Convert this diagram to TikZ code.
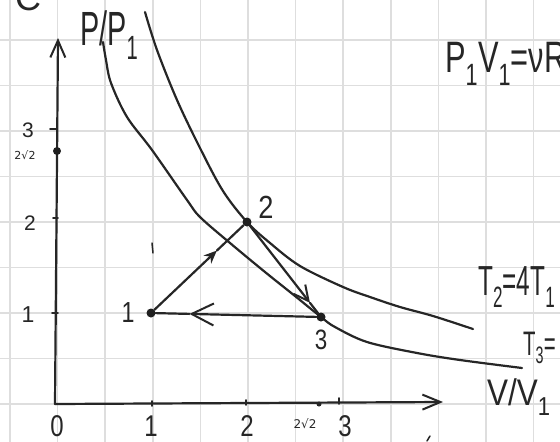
\documentclass[tikz,border=0pt]{standalone}
\usepackage{fontspec}
\setmainfont{Liberation Sans}
\newfontfamily\dv{DejaVu Sans}
\usetikzlibrary{arrows.meta}
\begin{document}
\begin{tikzpicture}[x=1pt,y=-1pt,
  ink/.style={draw=black!85, line width=2.2pt, line cap=round, line join=round},
  gridline/.style={draw=black!13, line width=1.6pt},
  dot/.style={circle, fill=black!88, inner sep=0pt, minimum size=9pt},
  hand/.style={text=black!85, inner sep=0pt},
  barb/.style={-{Straight Barb[length=#1,width=#1,line width=2pt]}},
  barb/.default=16pt]
\useasboundingbox (0,0) rectangle (560,442);
\fill[white] (0,0) rectangle (560,442);
% grid
\foreach \x in {10,57.6,105.2,152.8,200.4,248,295.6,343.2,390.8,438.4,486,533.6}
  \draw[gridline] (\x,0) -- (\x,442);
\foreach \y in {40,85.5,131,176.5,222,267.5,313,358.5,404,449.5}
  \draw[gridline] (0,\y) -- (560,\y);
% axes
\coordinate (O) at (55,404);
\coordinate (ytop) at (58,38);
\coordinate (xend) at (443,402);
\draw[ink, -{Straight Barb[length=17pt,width=15pt,line width=2pt]}] (O) -- (ytop);
\draw[ink, -{Straight Barb[length=18pt,width=15pt,line width=2pt]}] (O) -- (xend);
% ticks
\draw[ink, line width=1.6pt] (152,401) -- (152,406);
\draw[ink, line width=1.6pt] (246,400) -- (246,405);
\draw[ink, line width=1.6pt] (339,398) -- (339,404);
\fill[black!85] (319,404) circle (2.5pt);
\draw[ink, line width=1.6pt] (52,313) -- (58,313);
\draw[ink, line width=1.6pt] (53,218) -- (58,218);
\draw[ink, line width=1.6pt] (50,129) -- (57,129);
% isotherms
\draw[ink] plot[smooth, tension=0.55] coordinates {(103,42) (106,60) (111,83) (127,117) (152,150) (187,200) (200,217) (230,243) (265,272) (295,296) (321,317) (335,327) (367,342) (417,353) (460,360) (522,368)};
\draw[ink] plot[smooth, tension=0.55] coordinates {(145,12) (157,50) (177,100) (200,148) (223,191) (247,222) (270,243) (300,266) (343,287) (370,297) (400,307) (433,316) (473,329)};
% states
\node[dot] (p1) at (151,313) {};
\node[dot] (p2) at (247,222) {};
\node[dot] (p3) at (321,317) {};
\node[dot, minimum size=8pt] (q) at (57,151) {};
% cycle
\path (p1) -- (p2) coordinate[pos=0.7] (m12);
\draw[ink, -{Stealth[length=13pt,width=11pt]}] (p1) -- (m12);
\draw[ink] (m12) -- (p2);
\path (p2) -- (p3) coordinate[pos=0.88] (m23);
\draw[ink, barb=15pt] (p2) -- (m23);
\draw[ink] (m23) -- (p3);
\path (p3) -- (p1) coordinate[pos=0.79] (m31);
\draw[ink, barb=22pt] (p3) -- (m31);
\draw[ink] (m31) -- (p1);
% stray pen marks
\draw[ink, line width=1.5pt] (152,243) -- (153,253);
\draw[ink, line width=1.5pt] (427,441) -- (430,436);
% point labels
\node[hand, font=\fontsize{29}{29}\selectfont, xscale=0.8] (l1) at (128,313) {1};
\node[hand, font=\fontsize{32}{32}\selectfont, xscale=0.85] (l2) at (266,207) {2};
\node[hand, font=\fontsize{28}{28}\selectfont, xscale=0.8] (l3) at (321,340) {3};
% axis labels
\node[hand, font=\fontsize{30}{30}\selectfont, xscale=0.8] (x0) at (57,426) {0};
\node[hand, font=\fontsize{30}{30}\selectfont, xscale=0.8] (x1) at (151,426) {1};
\node[hand, font=\fontsize{30}{30}\selectfont, xscale=0.8] (x2) at (247,426) {2};
\node[hand, font=\dv\fontsize{12}{12}\selectfont] (xr) at (305,424) {2√2};
\node[hand, font=\fontsize{30}{30}\selectfont, xscale=0.8] (x3) at (345,426) {3};
\node[hand, font=\fontsize{21}{21}\selectfont] (y3) at (28,130) {3};
\node[hand, font=\dv\fontsize{11}{11}\selectfont] (yr) at (25,155) {2√2};
\node[hand, font=\fontsize{21}{21}\selectfont] (y2) at (30,223) {2};
\node[hand, font=\fontsize{23}{23}\selectfont] (y1) at (28,315) {1};
% titles
\node[hand, font=\fontsize{36}{36}\selectfont] (c) at (28,-2) {C};
\node[hand, font=\fontsize{48}{48}\selectfont, xscale=0.6, anchor=west] (py) at (80,35) {P/P\textsubscript{1}};
\node[hand, font=\fontsize{44}{44}\selectfont, xscale=0.7, anchor=west] (eq) at (445,64) {P\textsubscript{1}V\textsubscript{1}=νR};
\node[hand, font=\fontsize{42}{42}\selectfont, xscale=0.58, anchor=west] (t2) at (478,287) {T\textsubscript{2}=4T\textsubscript{1}};
\node[hand, font=\fontsize{34}{34}\selectfont, xscale=0.6, anchor=west] (t3) at (523,348) {T\textsubscript{3}=};
\node[hand, font=\fontsize{37}{37}\selectfont, xscale=0.85, anchor=west] (vx) at (487,397) {V/V\textsubscript{1}};
\end{tikzpicture}
\end{document}
